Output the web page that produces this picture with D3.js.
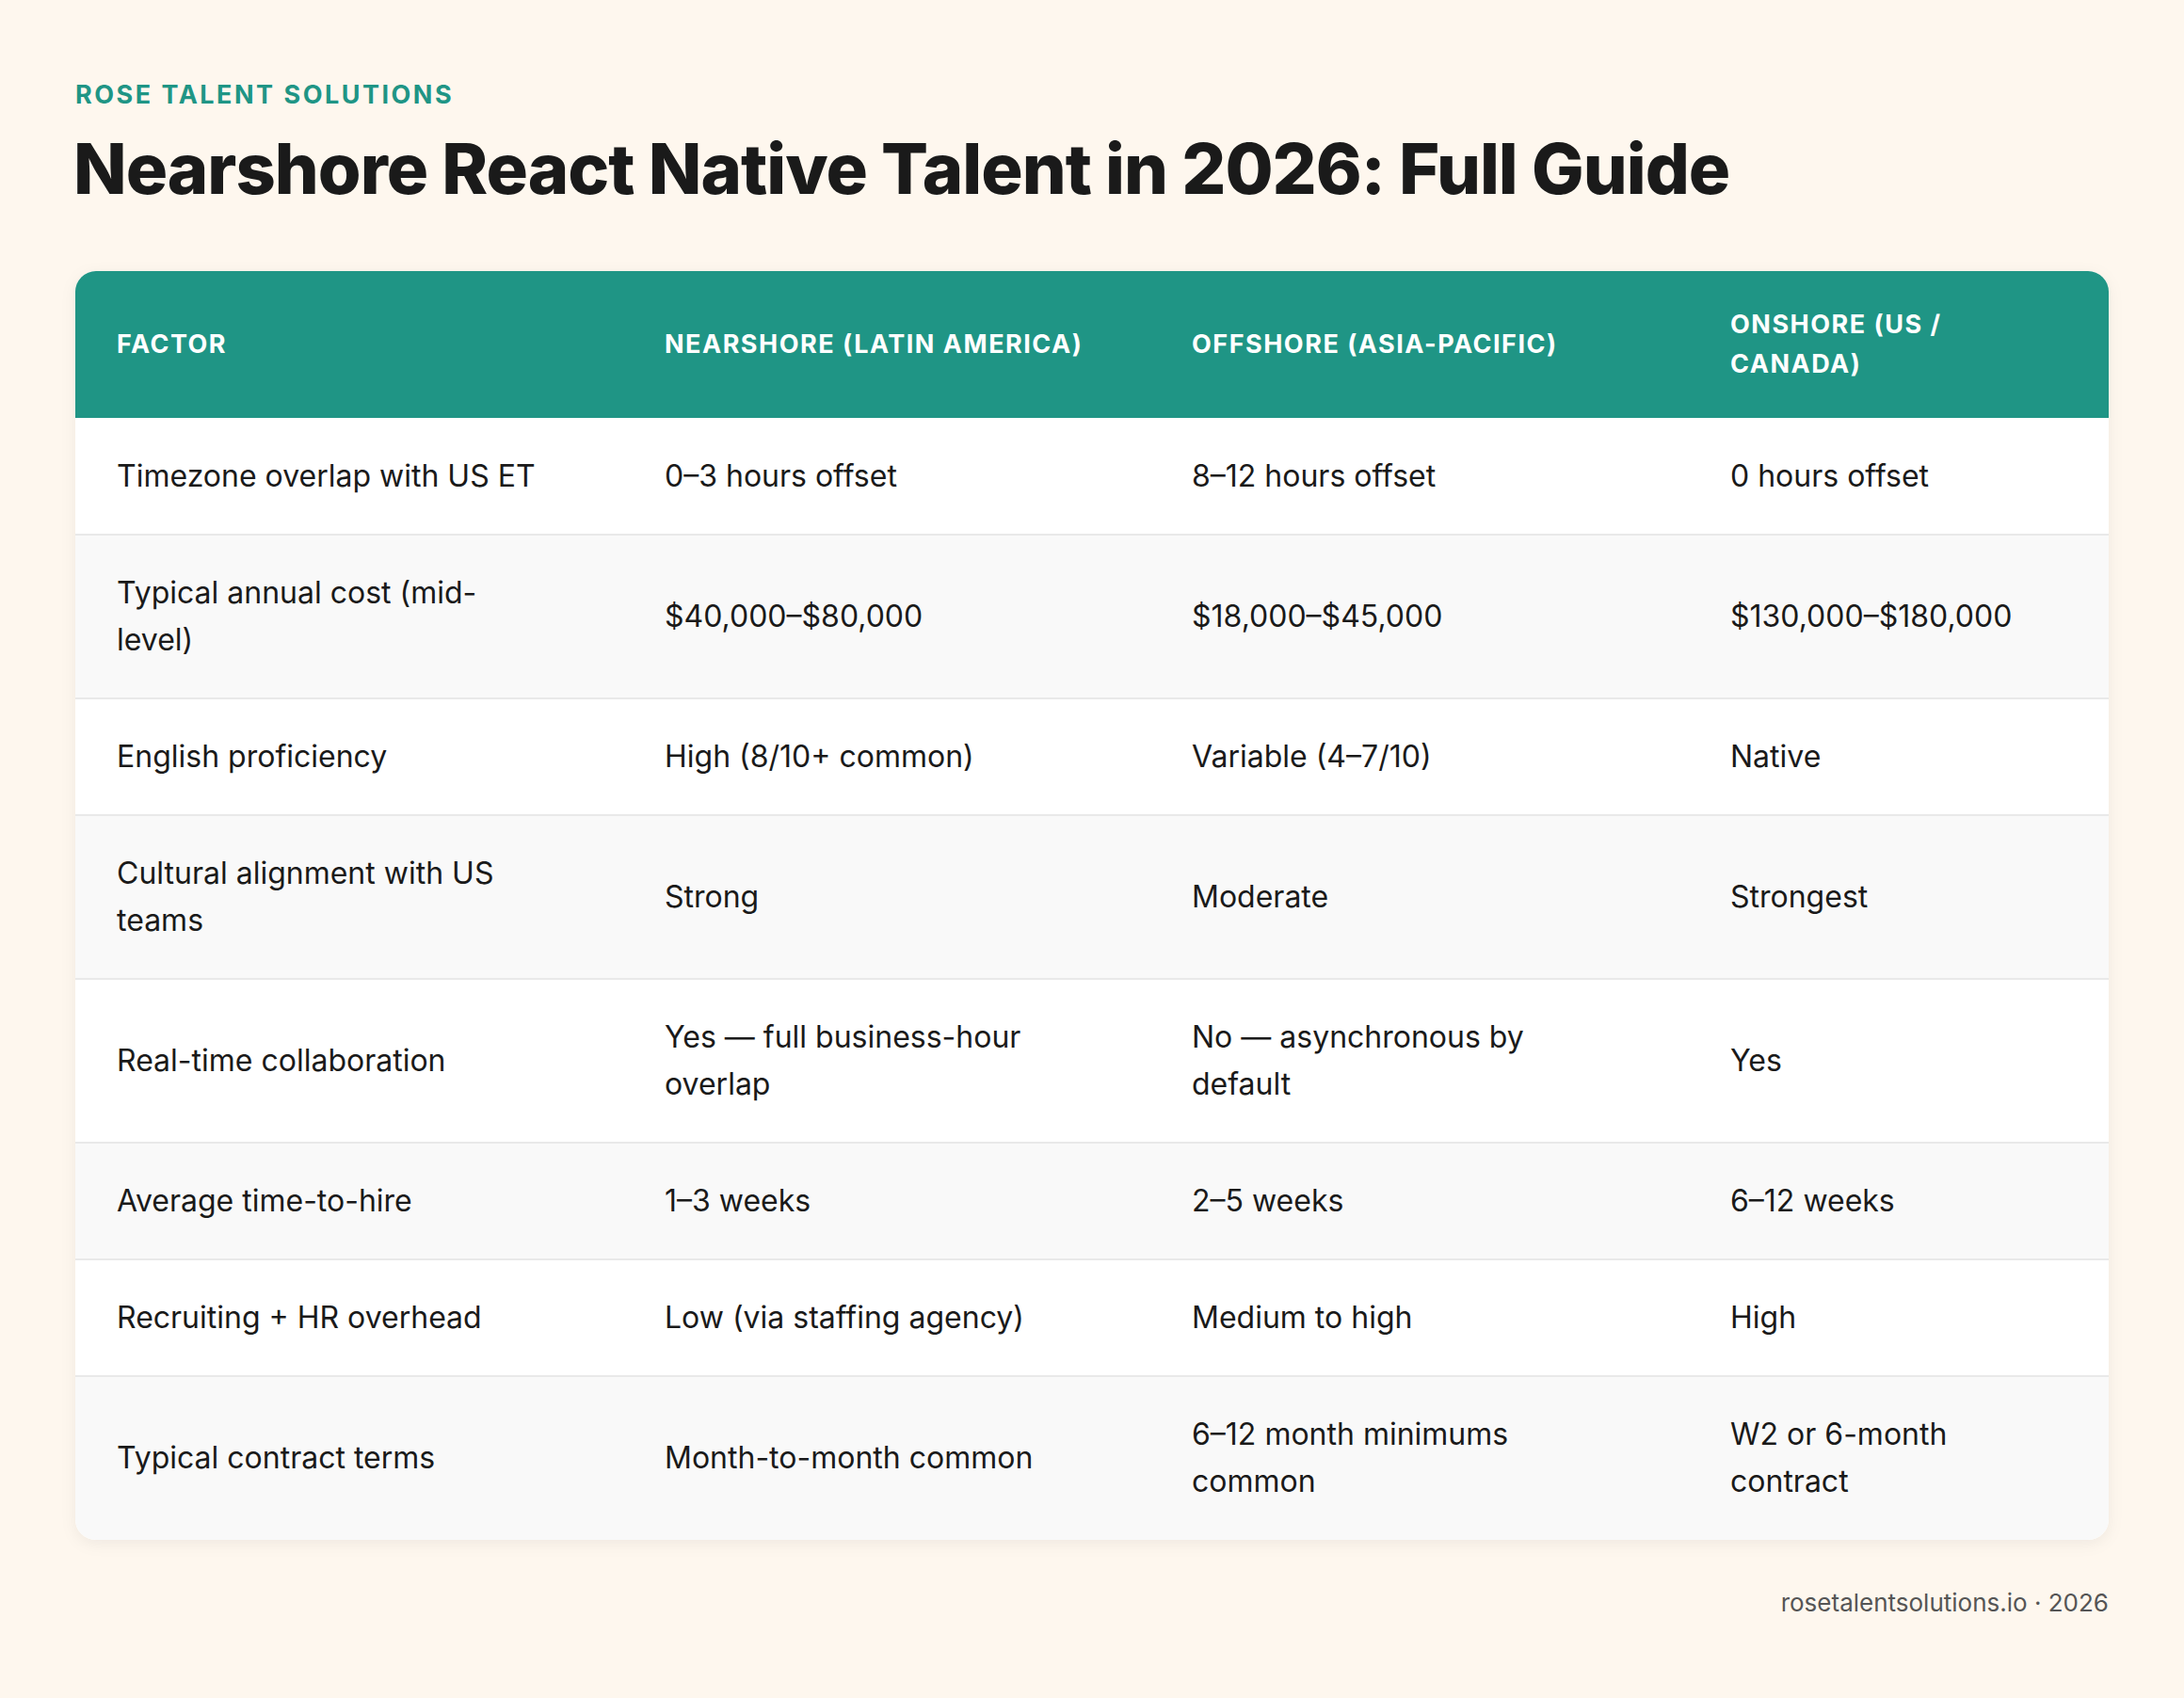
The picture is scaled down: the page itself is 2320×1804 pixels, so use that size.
<!DOCTYPE html>
<html><head><meta charset="utf-8">
<script src="https://cdn.jsdelivr.net/npm/d3@7"></script>
<style>
body{margin:0;background:#fef7ee;}
svg{display:block;font-family:Inter,"Open Sans",sans-serif;}
</style></head>
<body><svg id="chart"></svg>
<script>
// table content ("\n" marks a line break as in the picture)
const brand = "ROSE TALENT SOLUTIONS";
const title = "Nearshore React Native Talent in 2026: Full Guide";
const footer = "rosetalentsolutions.io · 2026";
const headers = ["FACTOR", "NEARSHORE (LATIN AMERICA)", "OFFSHORE (ASIA-PACIFIC)", "ONSHORE (US /\nCANADA)"];
const factors = ["Timezone overlap with US ET", "Typical annual cost (mid-\nlevel)", "English proficiency",
  "Cultural alignment with US\nteams", "Real-time collaboration", "Average time-to-hire",
  "Recruiting + HR overhead", "Typical contract terms"];
const nearshore = ["0–3 hours offset", "$40,000–$80,000", "High (8/10+ common)", "Strong",
  "Yes — full business-hour\noverlap", "1–3 weeks", "Low (via staffing agency)", "Month-to-month common"];
const offshore = ["8–12 hours offset", "$18,000–$45,000", "Variable (4–7/10)", "Moderate",
  "No — asynchronous by\ndefault", "2–5 weeks", "Medium to high", "6–12 month minimums\ncommon"];
const onshore = ["0 hours offset", "$130,000–$180,000", "Native", "Strongest", "Yes", "6–12 weeks",
  "High", "W2 or 6-month\ncontract"];

const W = 2320, H = 1804;
const svg = d3.select("#chart").attr("width", W).attr("height", H);

const tLeft = 80, tRight = 2240, tTop = 288;
const colX = [124, 706, 1266, 1838];
const lineH = 50, headerH = 156;
const rows = factors.map((f, i) => [f, nearshore[i], offshore[i], onshore[i]]);
const rowH = rows.map(r => d3.max(r, c => c.split("\n").length) > 1 ? 174 : 124);
const rowY = d3.cumsum([0, ...rowH]).map(v => v + tTop + headerH);
const tBottom = rowY[rowY.length - 1];

svg.append("text").attr("x", 80).attr("y", 110).text(brand)
  .attr("fill", "#1f9585").attr("font-size", 27).attr("font-weight", 700).attr("letter-spacing", 2.5);
svg.append("text").attr("x", 78).attr("y", 206).text(title)
  .attr("fill", "#1a1a1a").attr("font-size", 74).attr("font-weight", 800).attr("letter-spacing", -1);

const defs = svg.append("defs");
const flt = defs.append("filter").attr("id", "sh").attr("x", "-5%").attr("y", "-5%").attr("width", "110%").attr("height", "110%");
flt.append("feDropShadow").attr("dx", 0).attr("dy", 4).attr("stdDeviation", 8).attr("flood-color", "#000").attr("flood-opacity", 0.06);
defs.append("clipPath").attr("id", "clip").append("rect")
  .attr("x", tLeft).attr("y", tTop).attr("width", tRight - tLeft).attr("height", tBottom - tTop).attr("rx", 22);

svg.append("rect").attr("x", tLeft).attr("y", tTop).attr("width", tRight - tLeft).attr("height", tBottom - tTop)
  .attr("rx", 22).attr("fill", "#fff").attr("filter", "url(#sh)");

const g = svg.append("g").attr("clip-path", "url(#clip)");
g.append("rect").attr("x", tLeft).attr("y", tTop).attr("width", tRight - tLeft).attr("height", headerH).attr("fill", "#1f9585");

function cell(sel, txt, x, yc, opts) {
  const lines = txt.split("\n");
  const t = sel.append("text").attr("x", x).attr("fill", opts.fill).attr("font-size", opts.size)
    .attr("font-weight", opts.weight).attr("letter-spacing", opts.ls || 0);
  lines.forEach((l, k) => {
    t.append("tspan").attr("x", x).attr("y", yc + (k - (lines.length - 1) / 2) * opts.lh).attr("dy", "0.35em").text(l);
  });
}

headers.forEach((h, j) => cell(g, h, colX[j], tTop + headerH / 2,
  { fill: "#fff", size: 27, weight: 700, ls: 1.5, lh: 42 }));

rows.forEach((r, i) => {
  g.append("rect").attr("x", tLeft).attr("y", rowY[i]).attr("width", tRight - tLeft).attr("height", rowH[i])
    .attr("fill", i % 2 ? "#f9f9f9" : "#ffffff");
  if (i > 0) g.append("line").attr("x1", tLeft).attr("x2", tRight).attr("y1", rowY[i]).attr("y2", rowY[i])
    .attr("stroke", "#e9e9e9").attr("stroke-width", 2);
  r.forEach((c, j) => cell(g, c, colX[j], rowY[i] + rowH[i] / 2,
    { fill: "#1a1a1a", size: 32, weight: 400, lh: lineH }));
});

svg.append("text").attr("x", tRight).attr("y", 1712).attr("text-anchor", "end").text(footer)
  .attr("fill", "#555").attr("font-size", 26);
</script></body></html>
